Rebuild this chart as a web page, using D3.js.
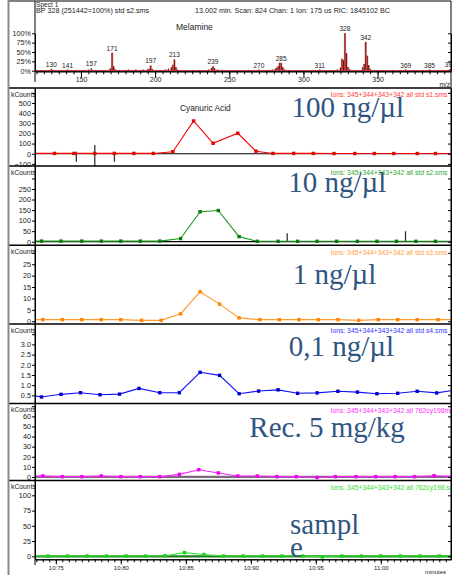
<!DOCTYPE html>
<html>
<head>
<meta charset="utf-8">
<script src="https://cdn.jsdelivr.net/npm/d3@7/dist/d3.min.js"></script>
<style>
html,body{margin:0;padding:0;background:#fff;}
svg{display:block;}
text{font-family:Arial,"Liberation Sans",Helvetica,sans-serif;}
text.big{font-family:"Liberation Serif","Times New Roman",Times,serif;}
</style>
</head>
<body>
<svg id="chart" width="455" height="575"></svg>
<script>
// ================= DATA =================
// Mass spectrum (top panel): m/z and relative intensity (%)
const specMz = [121,124,127,130,131,134,137,141,144,147,
  150,153,155,157,160,163,166,169,170,171,
  172,173,176,179,182,184,187,190,192,195,
  196,197,198,201,204,207,209,211,212,213,
  214,215,218,221,224,227,230,233,236,238,
  239,240,242,245,248,251,254,257,260,263,
  266,268,270,273,276,279,281,282,283,284,
  285,286,287,290,293,296,299,302,305,308,
  311,314,317,320,323,325,326,327,328,329,
  330,331,334,337,340,341,342,343,344,345,
  348,351,354,357,360,363,366,369,372,375,
  378,381,385,388,391,394,397,399];
const specPct = [2,1.5,2,5,2,1.5,2,3,1.5,2,
  1.5,2,3,6,2,1.5,2,3,6,48,
  12,4,2,1.5,3,2,3,2,3,4,
  5,14,5,2,1.5,3,5,9,16,30,
  10,3,2,1.5,2,1.5,2,1.5,3,7,
  12,7,3,2,1.5,2,1.5,2,1.5,2,
  1.5,2,3,1.5,2,3,5,8,12,21,
  21,10,4,2,1.5,2,1.5,2,1.5,2,
  3,1.5,2,1.5,3,8,32,28,100,47,
  10,4,2,2,9,18,77,40,15,5,
  2,1.5,2,1.5,2,1.5,2,3,1.5,2,
  1.5,2,3,1.5,2,1.5,2,4];
const specPeakLabels = ["130","141","157","171","197","213","239","270","285","311","328","342","369","385","399"];
const specPctTicks = [0,25,50,75,100];
const specMzTicks = [150,200,250,300,350];

// Chromatograms: retention time (min) and kCounts
const t1 = [10.729,10.749,10.764,10.780,10.795,10.810,10.825,10.840,10.856,10.871,10.890,10.904,10.917,10.933,10.948,10.964,10.980,10.995,11.010,11.028,11.042,11.057];
const v1 = [3,3,3,3,3,3,3,20,323,103,202,25,3,3,3,2,2,2,2,2,2,2];
const spike1T = [10.7658,10.7800,10.7951];
const spike1Lo = [-79,-122,-79];
const spike1Hi = [20,86,-13];

const t2 = [10.724,10.739,10.754,10.770,10.785,10.800,10.815,10.830,10.846,10.861,10.875,10.891,10.905,10.921,10.936,10.951,10.966,10.982,10.997,11.012,11.027,11.042,11.057];
const v2 = [3,3,3,3,3,3,3,3,15,142,148,24,2,2,2,2,2,2,2,2,2,2,2];
const spike2T = [10.928,11.019];
const spike2Lo = [0,0];
const spike2Hi = [40,50];

const t3 = [10.725,10.740,10.755,10.770,10.785,10.800,10.816,10.831,10.846,10.861,10.876,10.891,10.907,10.922,10.937,10.952,10.967,10.983,10.998,11.013,11.028,11.044,11.059];
const v3 = [0.7,0.7,0.7,0.7,0.7,0.7,0.4,0.4,3.3,12.9,7.5,1.5,0.7,0.7,0.7,0.7,0.7,0.4,0.7,0.7,0.7,0.7,0.7];

const t4 = [10.724,10.739,10.754,10.769,10.784,10.799,10.814,10.830,10.845,10.861,10.876,10.891,10.906,10.921,10.936,10.951,10.967,10.982,10.997,11.013,11.028,11.043,11.058];
const v4 = [0.58,0.42,0.55,0.63,0.53,0.56,0.84,0.63,0.63,1.63,1.48,0.58,0.71,0.77,0.60,0.62,0.70,0.66,0.58,0.60,0.70,0.62,0.76];

const t5 = [10.725,10.740,10.755,10.770,10.785,10.800,10.815,10.830,10.845,10.860,10.875,10.890,10.905,10.920,10.935,10.951,10.965,10.981,10.996,11.011,11.026,11.041,11.056];
const v5 = [0.5,1,0.3,0.3,1,0.3,0.3,0.3,2.6,7.2,4,1,1,0.3,0.3,-0.5,0.3,0.3,0.3,0.3,0.3,1.2,0.5];

const t6 = [10.729,10.744,10.759,10.774,10.789,10.804,10.819,10.834,10.849,10.864,10.879,10.894,10.909,10.924,10.940,10.955,10.970,10.985,11.000,11.015,11.030,11.045,11.060];
const v6 = [0.5,0.5,0.5,0.5,0.5,0.5,0.5,1,6,3,0.5,0.5,0.5,0.5,0.5,-1,0.5,0.5,0.5,0.5,0.5,0.5,0.5];

const yTicks1 = [-100,0,100,200,300,400,500], yExtra1 = [600];
const yTicks2 = [0,50,100,150,200,250], yExtra2 = [300];
const yTicks3 = [0,5,10,15,20,25], yExtra3 = [30];
const yTicks4 = [0.5,1.0,1.5,2.0,2.5,3.0], yExtra4 = [3.5];
const yTicks5 = [0,10,20,30,40,50,60], yExtra5 = [70];
const yTicks6 = [0,25,50,75,100], yExtra6 = [];

const xTickValues = [10.75,10.80,10.85,10.90,10.95,11.00];
const xTickLabels = ["10:75","10:80","10:85","10:90","10:95","11:00"];

const ionLabels = [
  "Ions: 345+344+343+342 all std s1.sms",
  "Ions: 345+344+343+342 all std s2.sms",
  "Ions: 345+344+343+342 all std s3.sms",
  "Ions: 345+344+343+342 all std s4.sms",
  "Ions: 345+344+343+342 all 762cy198mel.sms",
  "Ions: 345+344+343+342 all 762cy198.sms"];
const bigLabels = [["100 ng/µl"],["10 ng/µl"],["1 ng/µl"],["0,1 ng/µl"],["Rec. 5 mg/kg"],["sampl","e"]];

// ================= LAYOUT =================
const svg = d3.select("#chart");
const X0 = 35, X1 = 451, FL = 8;
const defs = svg.append("defs");

const xT = d3.scaleLinear().domain([10.734, 11.054]).range([X0, X1]);

function styleAxis(g, size, color) {
  g.attr("font-family", null).attr("font-size", null);
  g.selectAll("text").attr("font-size", size).attr("fill", color || "#222");
  g.selectAll("line").attr("stroke", "#000");
  g.selectAll("path").attr("stroke", "#000");
}

// ---------- Spectrum panel ----------
const xM = d3.scaleLinear().domain([119, 399.5]).range([X0, X1]);
const yS = d3.scaleLinear().domain([0, 100]).range([70.7, 33.3]);
const specBaseY = 71.3;

defs.append("clipPath").attr("id", "clipS").append("rect")
  .attr("x", X0).attr("y", 1).attr("width", X1 - X0).attr("height", 87);

const sg = svg.append("g").attr("clip-path", "url(#clipS)");
sg.append("line").attr("x1", X0).attr("x2", X1).attr("y1", yS(0)).attr("y2", yS(0))
  .attr("stroke", "#c00000").attr("stroke-width", 1);
const specData = specMz.map((m, i) => ({m, p: specPct[i]}));
sg.selectAll("rect.pk").data(specData).enter().append("rect").attr("class", "pk")
  .attr("x", d => xM(d.m) - 1.1).attr("width", 2.2)
  .attr("y", d => yS(d.p)).attr("height", d => yS(0) - yS(d.p))
  .attr("fill", "#cf8c8c");
sg.selectAll("line.pk").data(specData).enter().append("line").attr("class", "pk")
  .attr("x1", d => xM(d.m)).attr("x2", d => xM(d.m))
  .attr("y1", yS(0)).attr("y2", d => yS(d.p))
  .attr("stroke", "#8b0000").attr("stroke-width", 1);
sg.selectAll("text.pl").data(specPeakLabels).enter().append("text").attr("class", "pl")
  .attr("x", d => xM(+d)).attr("y", d => yS(specPct[specMz.indexOf(+d)]) - 2)
  .attr("text-anchor", "middle").attr("font-size", 6.6).attr("fill", "#222").text(d => d);

// spectrum axes
svg.append("g").attr("transform", `translate(0,${specBaseY})`)
  .call(d3.axisBottom(xM).tickValues(d3.range(120, 400, 5)).tickSize(3).tickSizeOuter(0).tickFormat(""))
  .call(g => styleAxis(g, 7));
const sxa = svg.append("g").attr("transform", `translate(0,${specBaseY})`)
  .call(d3.axisBottom(xM).tickValues(specMzTicks).tickSize(6).tickSizeOuter(0))
  .call(g => styleAxis(g, 7));
sxa.selectAll("text").attr("dy", null).attr("y", 10.3);
svg.append("g").attr("transform", `translate(${X0},0)`)
  .call(d3.axisLeft(yS).tickValues(specPctTicks).tickFormat(d => d + "%").tickSize(3).tickPadding(1).tickSizeOuter(0))
  .call(g => styleAxis(g, 7.2));
svg.append("g").attr("transform", `translate(${X1},0)`)
  .call(d3.axisLeft(yS).tickValues(specPctTicks).tickFormat("").tickSize(3).tickSizeOuter(0))
  .call(g => styleAxis(g, 7));
svg.append("line").attr("x1", X0).attr("x2", X0).attr("y1", 1).attr("y2", 82).attr("stroke", "#000");

svg.append("text").attr("x", 36).attr("y", 6.5).attr("font-size", 6.6).attr("fill", "#222").text("Spect 1");
svg.append("text").attr("x", 36).attr("y", 13).attr("font-size", 7.2).attr("fill", "#222").text("BP 328 (251442=100%) std s2.sms");
svg.append("text").attr("x", 195).attr("y", 13).attr("font-size", 7.2).attr("fill", "#222").text("13.002 min. Scan: 824 Chan: 1 Ion: 175 us RIC: 1845102 BC");
svg.append("text").attr("x", 176).attr("y", 30).attr("font-size", 8.5).attr("fill", "#222").text("Melamine");
svg.append("text").attr("x", 450).attr("y", 86.5).attr("text-anchor", "end").attr("font-size", 6.6).attr("fill", "#222").text("m/z");

// ---------- Chromatogram panels ----------
const panels = [
  {t: t1, v: v1, top: 88, bot: 166, dom: [-121, 648], ticks: yTicks1, extra: yExtra1, fmt: d3.format("d"),
   line: "#ff0000", mark: "#e80000", ion: "#ff4040", zero: true, spT: spike1T, spLo: spike1Lo, spHi: spike1Hi,
   bx: 291.5, by: [117.3]},
  {t: t2, v: v2, top: 166, bot: 245.3, dom: [-17, 359], ticks: yTicks2, extra: yExtra2, fmt: d3.format("d"),
   line: "#1f9a1f", mark: "#0c780c", ion: "#33a833", zero: true, spT: spike2T, spLo: spike2Lo, spHi: spike2Hi,
   bx: 288.3, by: [192.3]},
  {t: t3, v: v3, top: 245.3, bot: 324, dom: [-1.2, 33.3], ticks: yTicks3, extra: yExtra3, fmt: d3.format("d"),
   line: "#ff9a33", mark: "#ff8400", ion: "#ffa040", bx: 292.7, by: [284]},
  {t: t4, v: v4, top: 324, bot: 403.5, dom: [0.1, 4.0], ticks: yTicks4, extra: yExtra4, fmt: d3.format(".1f"),
   line: "#1010ff", mark: "#0000cc", ion: "#3838ff", bx: 288.7, by: [355.7]},
  {t: t5, v: v5, top: 403.5, bot: 480.5, dom: [-3.5, 72.7], ticks: yTicks5, extra: yExtra5, fmt: d3.format("d"),
   line: "#ff22ff", mark: "#ee00ee", ion: "#ff33ff", base: "#7a6a7a", bx: 249.3, by: [437.3]},
  {t: t6, v: v6, top: 480.5, bot: 559.3, dom: [-4.9, 124.3], ticks: yTicks6, extra: yExtra6, fmt: d3.format("d"),
   line: "#33ee33", mark: "#1fcc1f", ion: "#33dd33", base: "#1f7f1f", bx: 290, by: [534, 557.3]}
];

panels.forEach((p, i) => {
  const y = d3.scaleLinear().domain(p.dom).range([p.bot, p.top]);
  const cid = "clipP" + i;
  defs.append("clipPath").attr("id", cid).append("rect")
    .attr("x", X0).attr("y", p.top).attr("width", X1 - X0).attr("height", p.bot - p.top);
  const g = svg.append("g").attr("clip-path", `url(#${cid})`);

  if (p.zero) {
    g.append("line").attr("x1", X0).attr("x2", X1).attr("y1", y(0)).attr("y2", y(0))
      .attr("stroke", "#000").attr("stroke-width", 1.2);
  }
  if (p.spT) {
    g.selectAll("line.sp").data(p.spT).enter().append("line").attr("class", "sp")
      .attr("x1", d => xT(d)).attr("x2", d => xT(d))
      .attr("y1", (d, k) => y(p.spLo[k])).attr("y2", (d, k) => y(p.spHi[k]))
      .attr("stroke", "#333").attr("stroke-width", 1.3);
  }
  if (p.base) {
    g.append("line").attr("x1", X0).attr("x2", X1).attr("y1", y(0)).attr("y2", y(0))
      .attr("stroke", p.base).attr("stroke-width", 2.2);
  }
  const pts = p.t.map((t, k) => ({t, v: p.v[k]}));
  g.append("path").datum(pts)
    .attr("d", d3.line().x(d => xT(d.t)).y(d => y(d.v)))
    .attr("fill", "none").attr("stroke", p.line).attr("stroke-width", 1.1);
  g.selectAll("rect.mk").data(pts).enter().append("rect").attr("class", "mk")
    .attr("x", d => xT(d.t) - 1.7).attr("y", d => y(d.v) - 1.7)
    .attr("width", 3.4).attr("height", 3.4).attr("fill", p.mark);

  // axes
  svg.append("g").attr("transform", `translate(${X0},0)`)
    .call(d3.axisLeft(y).tickValues(p.ticks).tickFormat(p.fmt).tickSize(3).tickPadding(1).tickSizeOuter(0))
    .call(a => styleAxis(a, 7.3));
  if (p.extra.length) {
    svg.append("g").attr("transform", `translate(${X0},0)`)
      .call(d3.axisLeft(y).tickValues(p.extra).tickFormat("").tickSize(3).tickSizeOuter(0))
      .call(a => styleAxis(a, 7));
  }
  svg.append("g").attr("transform", `translate(${X1},0)`)
    .call(d3.axisLeft(y).tickValues(p.ticks.concat(p.extra)).tickFormat("").tickSize(3).tickSizeOuter(0))
    .call(a => styleAxis(a, 7));

  svg.append("text").attr("x", 11).attr("y", p.top + 8.5).attr("font-size", 6.8).attr("fill", "#222").text("kCounts");

  const tg = svg.append("g").attr("clip-path", `url(#${cid})`);
  tg.append("text").attr("x", 330.5).attr("y", p.top + 9.3).attr("font-size", 6.8)
    .attr("fill", p.ion).text(ionLabels[i]);

  bigLabels[i].forEach((s, k) => {
    svg.append("text").attr("class", "big").attr("x", p.bx).attr("y", p.by[k])
      .attr("font-size", 29).attr("fill", "#2f5580").text(s);
  });

  if (i === 0) {
    svg.append("text").attr("x", 180).attr("y", 110.5).attr("font-size", 8.3).attr("fill", "#222").text("Cyanuric Acid");
  }
});

// ---------- bottom time axis ----------
const xAxisY = 559.3;
svg.append("g").attr("transform", `translate(0,${xAxisY})`)
  .call(d3.axisBottom(xT).tickValues(d3.range(2147, 2211).map(k => k / 200)).tickSize(3).tickSizeOuter(0).tickFormat(""))
  .call(a => styleAxis(a, 6));
const bxa = svg.append("g").attr("transform", `translate(0,${xAxisY})`)
  .call(d3.axisBottom(xT).tickValues(xTickValues).tickSize(5).tickSizeOuter(0).tickFormat((d, k) => xTickLabels[k]))
  .call(a => styleAxis(a, 6));
bxa.selectAll("text").attr("dy", null).attr("y", 10.8);
svg.append("text").attr("x", 446).attr("y", 573.5).attr("text-anchor", "end").attr("font-size", 6).attr("fill", "#222").text("minutes");
svg.append("line").attr("x1", X0).attr("x2", X0).attr("y1", 88).attr("y2", 565).attr("stroke", "#000");

// ---------- frame ----------
[88, 166, 245.3, 324, 403.5, 480.5].forEach(yy => {
  svg.append("line").attr("x1", FL).attr("x2", X1).attr("y1", yy).attr("y2", yy)
    .attr("stroke", "#000").attr("stroke-width", 1.5);
});
svg.append("line").attr("x1", FL).attr("x2", X1).attr("y1", 1).attr("y2", 1).attr("stroke", "#000");
svg.append("line").attr("x1", X1).attr("x2", X1).attr("y1", 1).attr("y2", xAxisY).attr("stroke", "#000");
svg.append("line").attr("x1", FL + 0.5).attr("x2", FL + 0.5).attr("y1", 0).attr("y2", 575)
  .attr("stroke", "#8a8a8a").attr("stroke-width", 2);
</script>
</body>
</html>
